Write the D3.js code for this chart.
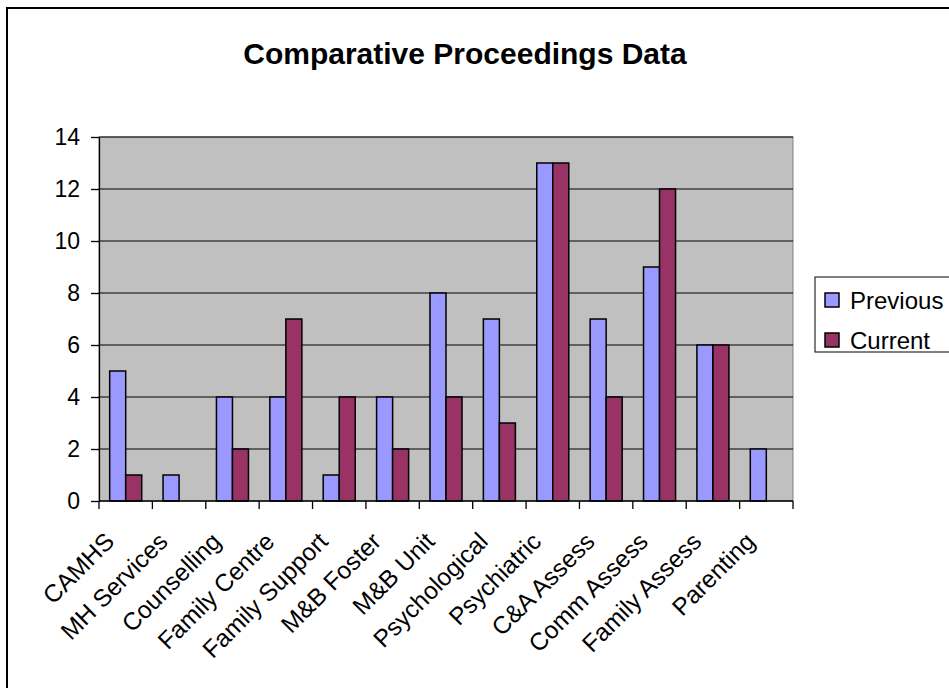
<!DOCTYPE html>
<html><head><meta charset="utf-8">
<script src="https://cdn.jsdelivr.net/npm/d3@7/dist/d3.min.js"></script>
<style>body{margin:0;background:#fff;font-family:Arial,"Liberation Sans",sans-serif;}</style>
</head><body>
<svg id="c" width="949" height="688"></svg>
<script>
const categories = ["CAMHS","MH Services","Counselling","Family Centre","Family Support","M&B Foster","M&B Unit","Psychological","Psychiatric","C&A Assess","Comm Assess","Family Assess","Parenting"];
const previous = [5,1,4,4,1,4,8,7,13,7,9,6,2];
const current  = [1,0,2,7,4,2,4,3,13,4,12,6,0];
const seriesNames = ["Previous","Current"];
const yTicks = [0,2,4,6,8,10,12,14];

const svg = d3.select("#c");
const colors = ["#9999FF","#993366"];
const L=99, R=793, T=137, B=501;
const FS = 23;

svg.append("rect").attr("x",7).attr("y",8).attr("width",960).attr("height",700)
  .attr("fill","#fff").attr("stroke","#000").attr("stroke-width",2);

svg.append("text").attr("x",465).attr("y",64).attr("text-anchor","middle")
  .attr("font-size",30).attr("font-weight","bold").text("Comparative Proceedings Data");

const x = d3.scaleBand().domain(categories).range([L,R]).paddingInner(0).paddingOuter(0);
const xs = d3.scaleBand().domain(seriesNames).range([x.bandwidth()*0.2, x.bandwidth()*0.8]);
const y = d3.scaleLinear().domain([0,14]).range([B,T]);

svg.append("rect").attr("x",L).attr("y",T).attr("width",R-L).attr("height",B-T)
  .attr("fill","#C0C0C0").attr("stroke","#808080").attr("stroke-width",1);

svg.append("g").selectAll("line").data(yTicks.filter(d=>d>0)).join("line")
  .attr("x1",L).attr("x2",R).attr("y1",d=>y(d)).attr("y2",d=>y(d))
  .attr("stroke","#000").attr("stroke-width",1);

const data = categories.map((c,i)=>({c, vals:[previous[i],current[i]]}));
const g = svg.append("g");
data.forEach(d=>{
  d.vals.forEach((v,j)=>{
    if(v<=0) return;
    g.append("rect").attr("x",x(d.c)+xs(seriesNames[j])).attr("width",xs.bandwidth())
      .attr("y",y(v)).attr("height",y(0)-y(v))
      .attr("fill",colors[j]).attr("stroke","#000").attr("stroke-width",1.5);
  });
});

// y axis
const ya = d3.axisLeft(y).tickValues(yTicks).tickSize(8).tickPadding(11).tickSizeOuter(0);
const yg = svg.append("g").attr("transform",`translate(${L},0)`).call(ya);
yg.selectAll("text").attr("font-size",FS).attr("font-family","Arial,'Liberation Sans',sans-serif").attr("fill","#000");
yg.selectAll("line,path").attr("stroke","#000").attr("stroke-width",1.3);

// x axis
svg.append("line").attr("x1",L).attr("x2",R).attr("y1",B).attr("y2",B).attr("stroke","#000").attr("stroke-width",1.3);
const bounds = categories.map(c=>x(c)).concat([R]);
svg.append("g").selectAll("line").data(bounds).join("line")
  .attr("x1",d=>d).attr("x2",d=>d).attr("y1",B).attr("y2",B+8).attr("stroke","#000").attr("stroke-width",1.3);
svg.append("g").selectAll("text").data(categories).join("text")
  .attr("transform",d=>`translate(${x(d)+x.bandwidth()/2-10},${B+42}) rotate(-45)`)
  .attr("text-anchor","end").attr("font-size",24.5).text(d=>d);

// legend
const lg = svg.append("g");
lg.append("rect").attr("x",815).attr("y",277).attr("width",160).attr("height",75)
  .attr("fill","#fff").attr("stroke","#000").attr("stroke-width",1);
seriesNames.forEach((s,i)=>{
  lg.append("rect").attr("x",825).attr("y",293+i*40).attr("width",14).attr("height",14)
    .attr("fill",colors[i]).attr("stroke","#000").attr("stroke-width",1.5);
  lg.append("text").attr("x",850).attr("y",309+i*40).attr("font-size",FS+1).text(s);
});
</script>
</body></html>
